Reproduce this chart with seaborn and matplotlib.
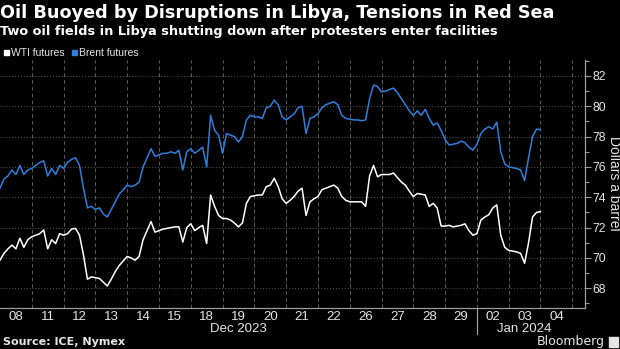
import numpy as np
import pandas as pd
import matplotlib
matplotlib.use("Agg")
import matplotlib.pyplot as plt
import seaborn as sns

# Trading sessions shown on the axis
day_labels = ["08", "11", "12", "13", "14", "15", "18", "19", "20", "21", "22",
              "26", "27", "28", "29", "02", "03", "04"]
month_labels = ["Dec 2023", "Jan 2024"]
month_first_day = [0, 15]
steps_per_day = 8

# Intraday futures prices, dollars a barrel
wti = [69.85, 70.3, 70.6, 70.85, 70.6, 71.3, 70.7, 71.2,
       71.4, 71.5, 71.6, 71.85, 70.6, 71.2, 70.95, 71.6,
       71.5, 71.6, 71.9, 71.95, 71.5, 70.2, 68.6, 68.75,
       68.7, 68.65, 68.4, 68.15, 68.6, 69.1, 69.5, 69.8,
       70.1, 70.0, 69.85, 70.1, 71.2, 71.8, 72.4, 71.7,
       71.8, 71.9, 71.95, 72.0, 72.05, 72.05, 71.05, 72.0,
       72.25, 71.8, 72.0, 72.15, 70.95, 74.15, 73.4, 72.8,
       72.6, 72.6, 72.5, 72.3, 72.05, 72.3, 73.6, 74.05,
       74.1, 74.15, 74.15, 74.7, 74.8, 75.25, 74.7, 73.9,
       73.6, 73.8, 74.05, 74.4, 74.6, 72.8, 73.7, 73.9,
       74.05, 74.5, 74.6, 74.7, 74.8, 74.6, 74.05, 73.8,
       73.7, 73.7, 73.7, 73.7, 73.4, 75.4, 76.1, 75.35,
       75.5, 75.5, 75.5, 75.6, 75.3, 75.0, 74.8, 74.4,
       74.05, 74.25, 74.2, 74.15, 73.4, 73.6, 73.3, 72.1,
       72.1, 72.15, 72.05, 72.1, 72.15, 72.25, 71.8, 71.5,
       71.6, 72.5, 72.7, 72.85, 73.3, 73.5, 71.5, 70.7,
       70.5, 70.45, 70.4, 70.3, 69.65, 71.0, 72.7, 73.0,
       73.05]

brent = [74.6, 75.2, 75.4, 75.8, 75.5, 76.1, 75.5, 75.8,
         75.9, 76.1, 76.3, 76.4, 75.4, 75.9, 75.5, 76.1,
         75.9, 76.3, 76.5, 76.6, 76.1, 74.6, 73.3, 73.4,
         73.2, 73.3, 72.9, 72.7, 73.2, 73.7, 74.2, 74.5,
         74.8, 74.7, 74.8, 75.0, 76.0, 76.6, 77.2, 76.7,
         76.8, 76.9, 76.9, 77.0, 76.9, 77.1, 75.8, 77.0,
         77.2, 76.9, 77.1, 77.3, 76.0, 79.4, 78.4, 78.1,
         76.9, 78.2, 78.1, 78.0, 77.65, 78.0, 79.1, 79.4,
         79.3, 79.3, 79.2, 79.9, 80.0, 80.4, 80.1, 79.3,
         79.1, 79.3, 79.5, 79.9, 80.0, 78.2, 79.2, 79.3,
         79.5, 79.9, 80.1, 80.2, 80.3, 80.1, 79.4, 79.2,
         79.15, 79.1, 79.1, 79.05, 79.1, 80.5, 81.4, 81.3,
         80.95, 81.0, 81.1, 81.2, 80.9, 80.5, 80.1, 79.7,
         79.4, 79.7, 79.4, 79.8, 79.2, 78.75, 78.9, 78.4,
         77.8, 77.45, 77.5, 77.55, 77.7, 77.6, 77.3, 77.1,
         77.5, 78.2, 78.5, 78.65, 78.5, 78.95, 77.0, 76.2,
         76.0, 75.95, 75.9, 75.8, 75.1, 76.6, 78.0, 78.5,
         78.45]

series_names = ["WTI futures", "Brent futures"]
series_colors = ["#ffffff", "#2f7fdc"]

session = np.arange(len(wti)) / steps_per_day
df = pd.concat([
    pd.DataFrame({"session": session, "price": wti, "series": series_names[0]}),
    pd.DataFrame({"session": session, "price": brent, "series": series_names[1]}),
])

sns.set_theme(style="dark")
plt.rcParams["font.family"] = ["DejaVu Sans"]
bg = "#000000"
grid_c = "#5a5a5a"
axis_c = "#9a9a9a"
txt_c = "#e6e6e6"
narrow = ["Liberation Sans Narrow", "Liberation Sans", "DejaVu Sans"]

fig = plt.figure(figsize=(6.2, 3.49), dpi=100, facecolor=bg)
ax = fig.add_axes([0.0, 1 - 308 / 349, 585 / 620, (308 - 60) / 349])
ax.set_facecolor(bg)

sns.lineplot(data=df, x="session", y="price", hue="series",
             palette=dict(zip(series_names, series_colors)),
             linewidth=1.1, legend=False, ax=ax, estimator=None)

ax.set_xlim(0, 18.4)
ax.set_ylim(66.7, 83.05)

# horizontal dotted grid at even dollar values
ax.set_yticks(np.arange(68, 83, 2))
ax.set_yticks(np.arange(67, 84, 1), minor=True)
ax.yaxis.tick_right()
for v in np.arange(68, 83, 2):
    ax.axhline(v, color=grid_c, lw=0.7, ls=(0, (1, 2)), zorder=0)
# dashed vertical separators between sessions
for d in range(1, len(day_labels) + 1):
    ax.axvline(d, color=grid_c, lw=0.7, ls=(0, (4, 3)), zorder=0)

ax.grid(False)
ax.set_xticks([])
ax.tick_params(axis="y", which="both", right=True, left=False, colors=axis_c,
               direction="out", pad=1.5, labelcolor=txt_c, labelsize=8.8)
ax.tick_params(axis="y", which="major", length=4, width=0.8)
ax.tick_params(axis="y", which="minor", length=3, width=0.8)
for lab in ax.get_yticklabels():
    lab.set_fontfamily(narrow)
ax.set_xlabel("")
ax.set_ylabel("")

for s in ["top", "left"]:
    ax.spines[s].set_visible(False)
ax.spines["right"].set_color(axis_c)
ax.spines["bottom"].set_color(axis_c)
ax.spines["right"].set_linewidth(0.9)
ax.spines["bottom"].set_linewidth(0.9)

fig.text(614 / 620, 1 - 183 / 349, "Dollars a barrel", rotation=270,
         color=txt_c, fontsize=10, family=narrow, ha="center", va="center")

# day labels and month labels under the axis
trans = ax.get_xaxis_transform()
for i, lab in enumerate(day_labels):
    ax.text(i + 0.5, -0.012, lab, transform=trans, ha="center", va="top",
            color=txt_c, fontsize=9.5, family=narrow)
month_end = [month_first_day[1], len(day_labels)]
for m, lab in enumerate(month_labels):
    centre = (month_first_day[m] + month_end[m]) / 2
    ax.text(centre, -0.06, lab, transform=trans, ha="center", va="top",
            color=txt_c, fontsize=9.5, family=narrow)
ax.plot([month_first_day[1]] * 2, [0, -0.105], transform=trans, color=axis_c,
        lw=0.9, clip_on=False)

fig.text(0.0, 1 - 13 / 349, "Oil Buoyed by Disruptions in Libya, Tensions in Red Sea",
         color="white", fontsize=12.7, fontweight="bold", va="center", ha="left")
fig.text(0.0, 1 - 31 / 349,
         "Two oil fields in Libya shutting down after protesters enter facilities",
         color="white", fontsize=9.3, fontweight="bold", va="center", ha="left")

# legend
lx = [4 / 620, 72 / 620]
for x0, name, col in zip(lx, series_names, series_colors):
    fig.patches.append(plt.Rectangle((x0, 1 - 55 / 349), 5 / 620, 5 / 349,
                                     transform=fig.transFigure, color=col))
    fig.text(x0 + 7 / 620, 1 - 52.5 / 349, name, color=txt_c, fontsize=7.5,
             va="center", ha="left", family=narrow)

fig.text(3 / 620, 1 - 342 / 349, "Source: ICE, Nymex", color=txt_c, fontsize=8,
         fontweight="bold", va="center", ha="left")
fig.text(605 / 620, 1 - 342 / 349, "Bloomberg", color=txt_c, fontsize=9,
         va="center", ha="right")
fig.patches.append(plt.Rectangle((609 / 620, 1 - 347 / 349), 9 / 620, 10 / 349,
                                 transform=fig.transFigure, color=txt_c))

fig.savefig("out.png", dpi=100, facecolor=bg)
